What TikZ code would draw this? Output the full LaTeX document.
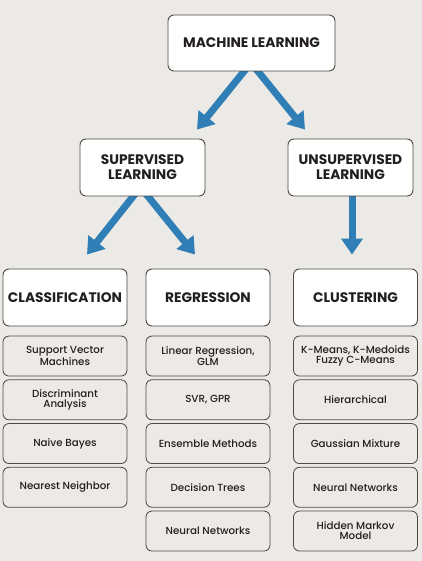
\documentclass[tikz,border=0pt]{standalone}
\usepackage{fontspec}
\setmainfont{Poppins}
\newfontfamily\medfont{Poppins Medium}
\usetikzlibrary{positioning,arrows.meta}
\definecolor{bgray}{HTML}{ECEAE6}
\definecolor{mlblue}{HTML}{2F7EB6}
\definecolor{edgec}{HTML}{4F4944}
\definecolor{txt}{HTML}{231F20}
\pgfdeclarelayer{back}
\pgfsetlayers{back,main}
\tikzset{
  topic/.style={draw=edgec,fill=white,rounded corners=6pt,line width=0.9pt,align=center,inner sep=0pt,
    font=\bfseries\fontsize{13.8}{15}\selectfont,text=txt},
  method/.style={draw=edgec,fill=bgray,rounded corners=6pt,line width=0.8pt,minimum width=124pt,
    minimum height=40pt,align=center,inner sep=0pt,font=\medfont\fontsize{10.3}{10}\selectfont,text=txt},
  flow/.style={-{Triangle[width=21pt,length=16pt]},line width=7pt,draw=mlblue}
}
\begin{document}
\begin{tikzpicture}[x=1pt,y=1pt,node distance=2.95pt]
\begin{pgfonlayer}{back}
\fill[bgray] (0,0) rectangle (422,561);
\end{pgfonlayer}
\useasboundingbox (0,0) rectangle (422,561);
\node[topic,minimum width=167pt,minimum height=56pt] (ML) at (251.5,518) {MACHINE LEARNING};
\node[topic,minimum width=125pt,minimum height=57pt] (SL) at (142.5,393.5) {SUPERVISED\\LEARNING};
\node[topic,minimum width=125pt,minimum height=57pt] (UL) at (350.5,393.5) {UNSUPERVISED\\LEARNING};
\node[topic,minimum width=124pt,minimum height=57pt] (C) at (65,263.5) {CLASSIFICATION};
\node[topic,minimum width=124pt,minimum height=57pt] (R) at (208,263.5) {REGRESSION};
\node[topic,minimum width=124pt,minimum height=57pt] (K) at (355.5,263.5) {CLUSTERING};
\node[method,below=9.2pt of C] (C1) {Support Vector\\Machines};
\node[method,below=of C1] (C2) {Discriminant\\Analysis};
\node[method,below=of C2] (C3) {Naive Bayes};
\node[method,below=of C3] (C4) {Nearest Neighbor};
\node[method,below=9.2pt of R] (R1) {Linear Regression,\\GLM};
\node[method,below=of R1] (R2) {SVR, GPR};
\node[method,below=of R2] (R3) {Ensemble Methods};
\node[method,below=of R3] (R4) {Decision Trees};
\node[method,below=of R4] (R5) {Neural Networks};
\node[method,below=9.2pt of K] (K1) {K-Means, K-Medoids\\Fuzzy C-Means};
\node[method,below=of K1] (K2) {Hierarchical};
\node[method,below=of K2] (K3) {Gaussian Mixture};
\node[method,below=of K3] (K4) {Neural Networks};
\node[method,below=of K4] (K5) {Hidden Markov\\Model};
\begin{pgfonlayer}{back}
\draw[flow] ([xshift=0.5pt,yshift=10pt]ML.south) -- ([xshift=54.5pt,yshift=9pt]SL.north);
\draw[flow] ([xshift=-1.5pt,yshift=10pt]ML.south) -- ([xshift=-45.5pt,yshift=9pt]UL.north);
\draw[flow] ([xshift=-1.5pt,yshift=10pt]SL.south) -- ([xshift=22pt,yshift=14pt]C.north);
\draw[flow] ([xshift=-2.5pt,yshift=10pt]SL.south) -- ([xshift=-13pt,yshift=14pt]R.north);
\draw[flow] ([xshift=1.5pt,yshift=5pt]UL.south) -- ([xshift=-3.5pt,yshift=14pt]K.north);
\end{pgfonlayer}
\end{tikzpicture}
\end{document}
